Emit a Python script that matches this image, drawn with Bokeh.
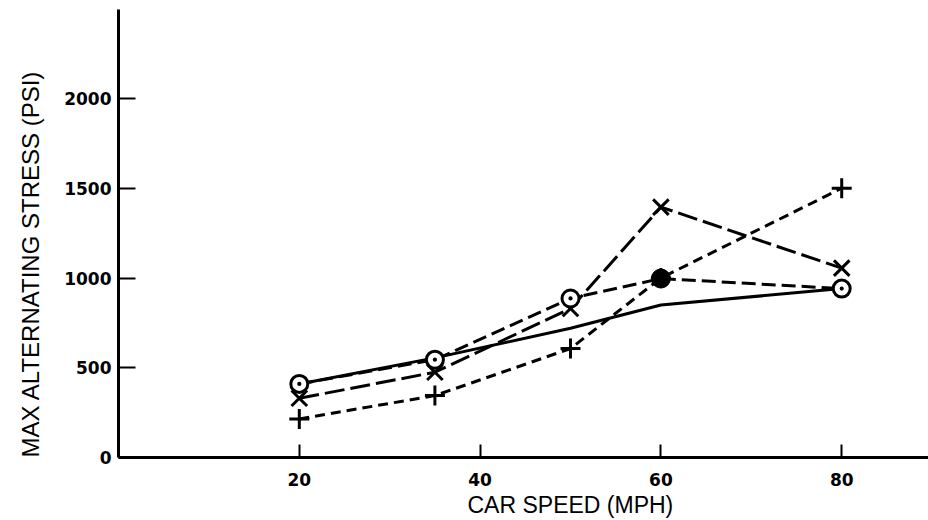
from bokeh.plotting import figure
from bokeh.models import Title, FixedTicker, Range1d
from bokeh.embed import file_html
from bokeh.resources import INLINE

# ---- data ----
speed = [20, 35, 50, 60, 80]
stress_x = [330, 475, 830, 1395, 1055]        # X markers, long dashes
stress_plus = [215, 345, 607, 1000, 1500]     # + markers, short dashes
stress_circle = [410, 545, 886, 997, 941]     # circle markers, medium dashes
circle_filled = [False, False, False, True, False]
stress_solid = [410, 555, 720, 850, 941]      # solid line
x_ticks = [20, 40, 60, 80]
y_ticks = [0, 500, 1000, 1500, 2000]
x_title = "CAR SPEED (MPH)"
y_title = "MAX ALTERNATING STRESS (PSI)"

p = figure(width=928, height=520,
           x_range=Range1d(0, 89.6), y_range=Range1d(0, 2496),
           output_backend="svg", toolbar_location=None,
           min_border_left=118, min_border_right=0,
           min_border_top=9, min_border_bottom=63)
p.outline_line_color = None
p.xgrid.visible = False
p.ygrid.visible = False
p.background_fill_color = "white"
p.border_fill_color = "white"

for ax in (p.xaxis[0], p.yaxis[0]):
    ax.axis_line_width = 3
    ax.axis_line_color = "black"
    ax.major_tick_line_width = 2
    ax.major_tick_line_color = "black"
    ax.major_tick_out = 0
    ax.minor_tick_line_color = None
    ax.major_label_text_font = "DejaVu Sans"
    ax.major_label_text_font_style = "bold"
    ax.major_label_text_font_size = "17px"
    ax.major_label_text_color = "black"

p.xaxis.ticker = FixedTicker(ticks=x_ticks)
p.yaxis.ticker = FixedTicker(ticks=y_ticks)
p.xaxis.major_tick_in = 13
p.yaxis.major_tick_in = 17
p.xaxis.major_label_standoff = 15
p.yaxis.major_label_standoff = 7

lw = 3
p.line(speed, stress_solid, line_width=lw, line_color="black")
p.line(speed, stress_circle, line_width=lw, line_color="black", line_dash="14 6")
p.line(speed, stress_x, line_width=lw, line_color="black", line_dash="20 6")
p.line(speed, stress_plus, line_width=lw, line_color="black", line_dash="10 6")

p.scatter(speed, stress_plus, marker="cross", size=20, line_width=lw, line_color="black")
p.scatter(speed, stress_x, marker="x", size=22, line_width=lw, line_color="black")

open_x = [s for s, f in zip(speed, circle_filled) if not f]
open_y = [v for v, f in zip(stress_circle, circle_filled) if not f]
fill_x = [s for s, f in zip(speed, circle_filled) if f]
fill_y = [v for v, f in zip(stress_circle, circle_filled) if f]
p.scatter(open_x, open_y, marker="circle_dot", size=17, line_width=lw,
          line_color="black", fill_color="white")
p.scatter(fill_x, fill_y, marker="circle", size=19, line_color="black", fill_color="black")

xt = Title(text=x_title, align="left", offset=349, standoff=2,
           text_font="Liberation Sans", text_font_size="23px",
           text_font_style="normal", text_color="black")
p.add_layout(xt, "below")
yt = Title(text=y_title, align="left", offset=0, standoff=32, vertical_align="top",
           text_font="Liberation Sans", text_font_size="24px",
           text_font_style="normal", text_color="black")
p.add_layout(yt, "left")

open("out.html", "w").write(file_html(p, INLINE))
